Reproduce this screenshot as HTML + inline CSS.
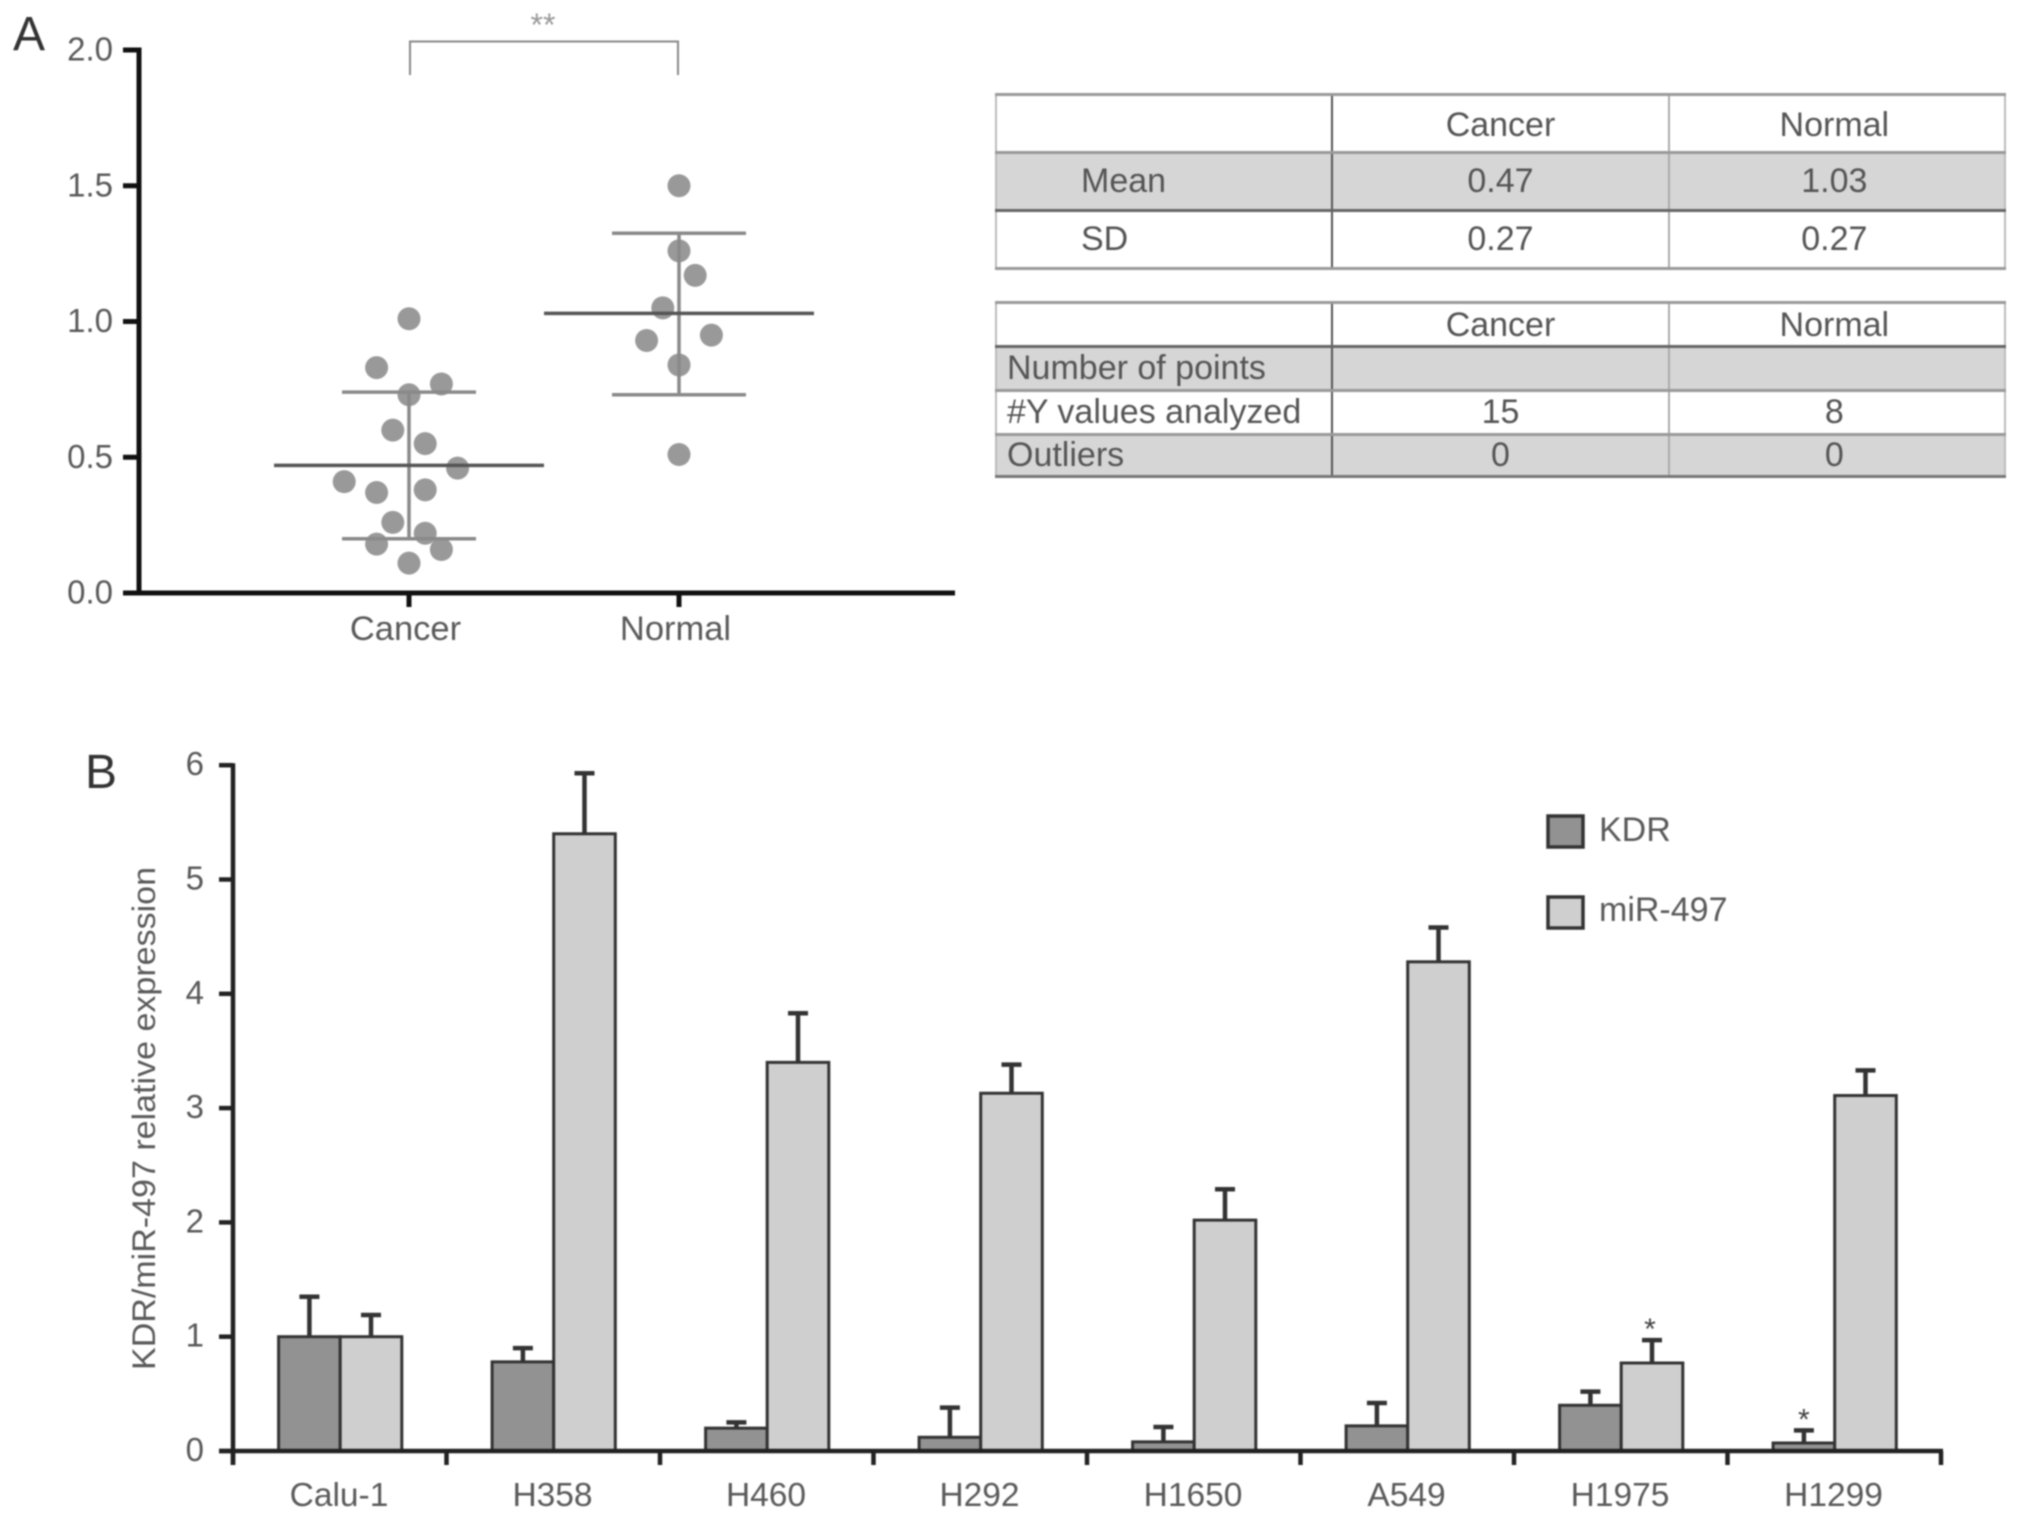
<!DOCTYPE html>
<html lang="en">
<head>
<meta charset="utf-8">
<title>KDR and miR-497 expression</title>
<style>
html,body{margin:0;padding:0;background:#fff;}
#page{position:relative;width:2032px;height:1519px;overflow:hidden;background:#fff;filter:blur(0.8px);font-family:"Liberation Sans",sans-serif;}
#chart{position:absolute;left:0;top:0;}
text{font-family:"Liberation Sans",sans-serif;}
table.stats{position:absolute;left:995px;width:1011px;table-layout:fixed;border-collapse:collapse;color:#555;font-size:34px;}
table.stats td{padding:0;text-align:center;border-left:2px solid #555;border-right:2px solid #aaa;border-top:3px solid #999;border-bottom:3px solid #999;white-space:nowrap;overflow:hidden;}
table.stats td:first-child{border-left:2px solid #bbb;border-right:2px solid #555;}
table.stats td:last-child{border-left:2px solid #aaa;border-right:2px solid #bbb;padding-right:5px;}
table.stats tr.gray td{background:#d6d6d6;}
#table-one tr.gray td{border-bottom:3px solid #666;}
#table-two tr:first-child td{border-bottom:3px solid #666;}
#table-two tr:last-child td{border-bottom:3px solid #777;}
#table-one td.lab{text-align:left;padding-left:84px;}
#table-two td.lab{text-align:left;padding-left:10px;}
#table-one tr{height:58px;}
#table-one tr:first-child td{padding-top:4px;}
#table-two tr{height:44px;}
#table-two tr:first-child td{padding-top:2px;}
#table-two tr:last-child{height:42px;}
</style>
</head>
<body>
<div id="page">
<svg id="chart" width="2032" height="1519" viewBox="0 0 2032 1519"></svg>

<table class="stats" id="table-one" style="top:93px">
<tr><td></td><td>Cancer</td><td>Normal</td></tr>
<tr class="gray"><td class="lab">Mean</td><td>0.47</td><td>1.03</td></tr>
<tr><td class="lab">SD</td><td>0.27</td><td>0.27</td></tr>
</table>

<table class="stats" id="table-two" style="top:301px">
<tr><td></td><td>Cancer</td><td>Normal</td></tr>
<tr class="gray"><td class="lab">Number of points</td><td></td><td></td></tr>
<tr><td class="lab">#Y values analyzed</td><td>15</td><td>8</td></tr>
<tr class="gray"><td class="lab">Outliers</td><td>0</td><td>0</td></tr>
</table>
</div>

<script>
// Panel A data
const scatterGroups = ['Cancer', 'Normal'];
const scatterTicks = ['0.0', '0.5', '1.0', '1.5', '2.0'];
const cancerValues = [1.01, 0.83, 0.77, 0.73, 0.60, 0.55, 0.46, 0.41, 0.37, 0.38, 0.26, 0.22, 0.18, 0.16, 0.11];
const cancerSlots = [0, -2, 2, 0, -1, 1, 3, -4, -2, 1, -1, 1, -2, 2, 0];
const normalValues = [1.50, 1.26, 1.17, 1.05, 0.93, 0.95, 0.84, 0.51];
const normalSlots = [0, 0, 1, -1, -2, 2, 0, 0];
const scatterMeans = [0.47, 1.03];
const scatterUpper = [0.74, 1.325];
const scatterLower = [0.20, 0.73];

// Panel B data
const cellLines = ['Calu-1', 'H358', 'H460', 'H292', 'H1650', 'A549', 'H1975', 'H1299'];
const barTicks = [0, 1, 2, 3, 4, 5, 6];
const kdrValues = [1.0, 0.78, 0.20, 0.12, 0.08, 0.22, 0.40, 0.07];
const kdrUpper = [1.35, 0.90, 0.25, 0.38, 0.21, 0.42, 0.52, 0.18];
const mirValues = [1.0, 5.40, 3.40, 3.13, 2.02, 4.28, 0.77, 3.11];
const mirUpper = [1.19, 5.93, 3.83, 3.38, 2.29, 4.58, 0.97, 3.33];
const kdrStars = [0, 0, 0, 0, 0, 0, 0, 1];
const mirStars = [0, 0, 0, 0, 0, 0, 1, 0];

const svg = document.getElementById('chart');
const NS = 'http://www.w3.org/2000/svg';
function add(tag, attrs, txt) {
  const n = document.createElementNS(NS, tag);
  for (const k in attrs) n.setAttribute(k, attrs[k]);
  if (txt !== undefined) n.textContent = txt;
  svg.appendChild(n);
  return n;
}
const GREY = '#5a5a5a';

// Panel A scales
const yA = v => 593 - v * 271.5;
const xA = (i, slot) => 409 + i * 270 + (slot || 0) * 16.2;
// Panel B scales
const yB = v => 1451 - v * 114.3;
const xB = i => 233 + i * 213.5;
const barW = 61.6;
const barOffset = 45.6;

let el;
// ---- Panel A ----
el = add('text', {x: 13, y: 50, 'font-size': 48, fill: '#333'}, 'A');



el = add('line', {x1: 139, y1: yA(2) - 2.5, x2: 139, y2: yA(0) + 2.5, stroke: '#111', 'stroke-width': 5});


el = add('line', {x1: 123, y1: yA(0), x2: 955, y2: yA(0), stroke: '#111', 'stroke-width': 5});



scatterTicks.forEach(t => {
  const v = parseFloat(t);
  el = add('line', {x1: 123, y1: yA(v), x2: 139, y2: yA(v), stroke: '#111', 'stroke-width': 5});
  
  
  el = add('text', {x: 113, y: yA(v) + 10.5, 'font-size': 33, 'text-anchor': 'end', fill: GREY}, t);
  
  
});

scatterGroups.forEach((g, i) => {
  el = add('line', {x1: xA(i), y1: yA(0), x2: xA(i), y2: yA(0) + 14, stroke: '#111', 'stroke-width': 5});
  
  
  el = add('text', {x: xA(i) - 3.5, y: 640, 'font-size': 34.5, 'text-anchor': 'middle', fill: GREY}, g);
  
  
});

[[cancerValues, cancerSlots, 0], [normalValues, normalSlots, 1]].forEach(([vals, slots, g]) => {
  vals.forEach((v, k) => {
    el = add('circle', {cx: xA(g, slots[k]), cy: yA(v), r: 11.5, fill: '#999'});
    
    
  });
});

scatterGroups.forEach((g, i) => {
  el = add('line', {x1: xA(i), y1: yA(scatterUpper[i]), x2: xA(i), y2: yA(scatterLower[i]), stroke: '#8a8a8a', 'stroke-width': 3.5});
  
  
  [scatterUpper[i], scatterLower[i]].forEach(c => {
    el = add('line', {x1: xA(i) - 67, y1: yA(c), x2: xA(i) + 67, y2: yA(c), stroke: '#8a8a8a', 'stroke-width': 3.5});
    
    
  });
  el = add('line', {x1: xA(i) - 135, y1: yA(scatterMeans[i]), x2: xA(i) + 135, y2: yA(scatterMeans[i]), stroke: '#555', 'stroke-width': 3.5});
  
  
});

el = add('polyline', {points: [xA(0) + 1, 75, xA(0) + 1, 41.5, xA(1) - 1, 41.5, xA(1) - 1, 75].join(' '), fill: 'none', stroke: '#888', 'stroke-width': 2});


el = add('text', {x: (xA(0) + xA(1)) / 2 - 1, y: 36, 'font-size': 32, 'text-anchor': 'middle', fill: '#999'}, '**');



// ---- Panel B ----
el = add('text', {x: 85, y: 788, 'font-size': 48, fill: '#333'}, 'B');



el = add('text', {transform: 'translate(155,1370) rotate(-90)', 'font-size': 32, fill: GREY, textLength: 503, lengthAdjust: 'spacingAndGlyphs'}, 'KDR/miR-497 relative expression');



function drawBar(i, val, top, side, fill, name) {
  const left = xB(i) + barOffset + (side === 0 ? 0 : barW);
  const cx = left + barW / 2;
  el = add('line', {x1: cx, y1: yB(val), x2: cx, y2: yB(top), stroke: '#333', 'stroke-width': 4.5});
  
  
  el = add('line', {x1: cx - 10, y1: yB(top), x2: cx + 10, y2: yB(top), stroke: '#333', 'stroke-width': 4.5});
  
  
  el = add('rect', {x: left, y: yB(val), width: barW, height: yB(0) - yB(val), fill: fill, stroke: '#333', 'stroke-width': 3});
  
  
}
cellLines.forEach((c, i) => {
  drawBar(i, kdrValues[i], kdrUpper[i], 0, '#929292', 'kdr');
  drawBar(i, mirValues[i], mirUpper[i], 1, '#cfcfcf', 'mir-497');
  if (kdrStars[i]) {
    el = add('text', {x: xB(i) + barOffset + barW / 2, y: yB(kdrUpper[i]) - 1, 'font-size': 30, 'text-anchor': 'middle', fill: '#444'}, '*');
    
    
  }
  if (mirStars[i]) {
    el = add('text', {x: xB(i) + barOffset + barW * 1.5 - 2, y: yB(mirUpper[i]) - 1, 'font-size': 30, 'text-anchor': 'middle', fill: '#444'}, '*');
    
    
  }
});

el = add('line', {x1: xB(0), y1: yB(6) - 2, x2: xB(0), y2: yB(0) + 14, stroke: '#222', 'stroke-width': 4.5});


el = add('line', {x1: xB(0) - 14, y1: yB(0), x2: xB(cellLines.length) + 2, y2: yB(0), stroke: '#222', 'stroke-width': 4.5});



barTicks.forEach(t => {
  el = add('line', {x1: xB(0) - 14, y1: yB(t), x2: xB(0), y2: yB(t), stroke: '#222', 'stroke-width': 4.5});
  
  
  el = add('text', {x: 204, y: yB(t) + 10, 'font-size': 33, 'text-anchor': 'end', fill: GREY}, String(t));
  
  
});

for (let i = 0; i <= cellLines.length; i++) {
  el = add('line', {x1: xB(i), y1: yB(0), x2: xB(i), y2: yB(0) + 14, stroke: '#222', 'stroke-width': 4.5});
  
  
}
cellLines.forEach((c, i) => {
  el = add('text', {x: xB(i) + 106, y: 1506, 'font-size': 33.5, 'text-anchor': 'middle', fill: GREY}, c);
  
  
});

// Legend
el = add('rect', {x: 1548, y: 816, width: 35, height: 31, fill: '#929292', stroke: '#333', 'stroke-width': 3.5});


el = add('text', {x: 1599, y: 841, 'font-size': 34, fill: GREY}, 'KDR');


el = add('rect', {x: 1548, y: 897, width: 35, height: 31, fill: '#cfcfcf', stroke: '#333', 'stroke-width': 3.5});


el = add('text', {x: 1599, y: 921, 'font-size': 34, fill: GREY}, 'miR-497');


</script>
</body>
</html>
